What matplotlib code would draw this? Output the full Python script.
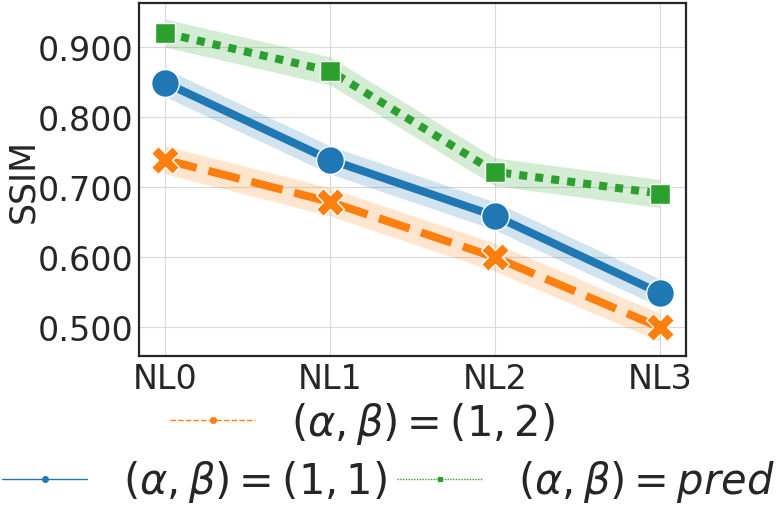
import numpy as np
import seaborn as sns
from matplotlib import pyplot as plt

sns.set_style("whitegrid", {"axes.edgecolor": ".15", "grid.color": ".85"})

levels = ["NL0", "NL1", "NL2", "NL3"]
ssim_11 = [0.849, 0.739, 0.659, 0.549]
ssim_12 = [0.739, 0.679, 0.600, 0.500]
ssim_pred = [0.920, 0.866, 0.722, 0.691]
band_11 = [0.02, 0.02, 0.02, 0.02]
band_12 = [0.02, 0.02, 0.02, 0.02]
band_pred = [0.02, 0.02, 0.02, 0.02]
labels = [r"$(\alpha,\beta) = (1,1)$", r"$(\alpha,\beta) = (1,2)$", r"$(\alpha,\beta) = pred$"]

fig = plt.figure(figsize=(7.77, 5.06), dpi=100)
ax = fig.add_axes([0.179, 0.2945, 0.704, 0.6975])

x = np.arange(len(levels))
lw = 5.8
series = [
    (ssim_11, band_11, "#1f77b4", "o", "-", 20),
    (ssim_12, band_12, "#ff7f0e", "X", (0, (4, 1.5)), 20),
    (ssim_pred, band_pred, "#2ca02c", (4, 0, 45), (0, (1, 1)), 20),
]
handles = []
for (y, b, c, m, ls, ms), lab in zip(series, labels):
    y = np.array(y)
    b = np.array(b)
    ax.fill_between(x, y - b, y + b, color=c, alpha=0.2, linewidth=0)
    ax.plot(x, y, color=c, lw=lw, ls=ls, marker=m, ms=ms, mec="w", mew=1)
    # small handle for the legend, like seaborn's
    h, = ax.plot([], [], color=c, lw=1, ls=ls, marker=m, ms=4, label=lab)
    handles.append(h)

ax.set_xticks(x)
ax.set_xticklabels(levels)
ax.set_xlim(-0.16, 3.16)
ax.set_ylim(0.459, 0.963)
ax.set_yticks([0.5, 0.6, 0.7, 0.8, 0.9])
ax.set_yticklabels(["%.3f" % v for v in [0.5, 0.6, 0.7, 0.8, 0.9]])
ax.tick_params(labelsize=24, length=0, pad=4)
ax.set_ylabel("SSIM", fontsize=25, labelpad=-2)
for s in ax.spines.values():
    s.set_linewidth(1.6)

fig.legend(handles=[handles[1]], loc="center left", bbox_to_anchor=(0.219, 0.162),
           frameon=False, fontsize=30, borderpad=0, borderaxespad=0,
           handlelength=2.04, handletextpad=0.86)
fig.legend(handles=[handles[0], handles[2]], loc="center left", bbox_to_anchor=(0.0026, 0.047),
           ncol=2, frameon=False, fontsize=30, borderpad=0, borderaxespad=0,
           handlelength=2.04, handletextpad=0.86, columnspacing=0.24)

fig.savefig("out.png", dpi=100)
